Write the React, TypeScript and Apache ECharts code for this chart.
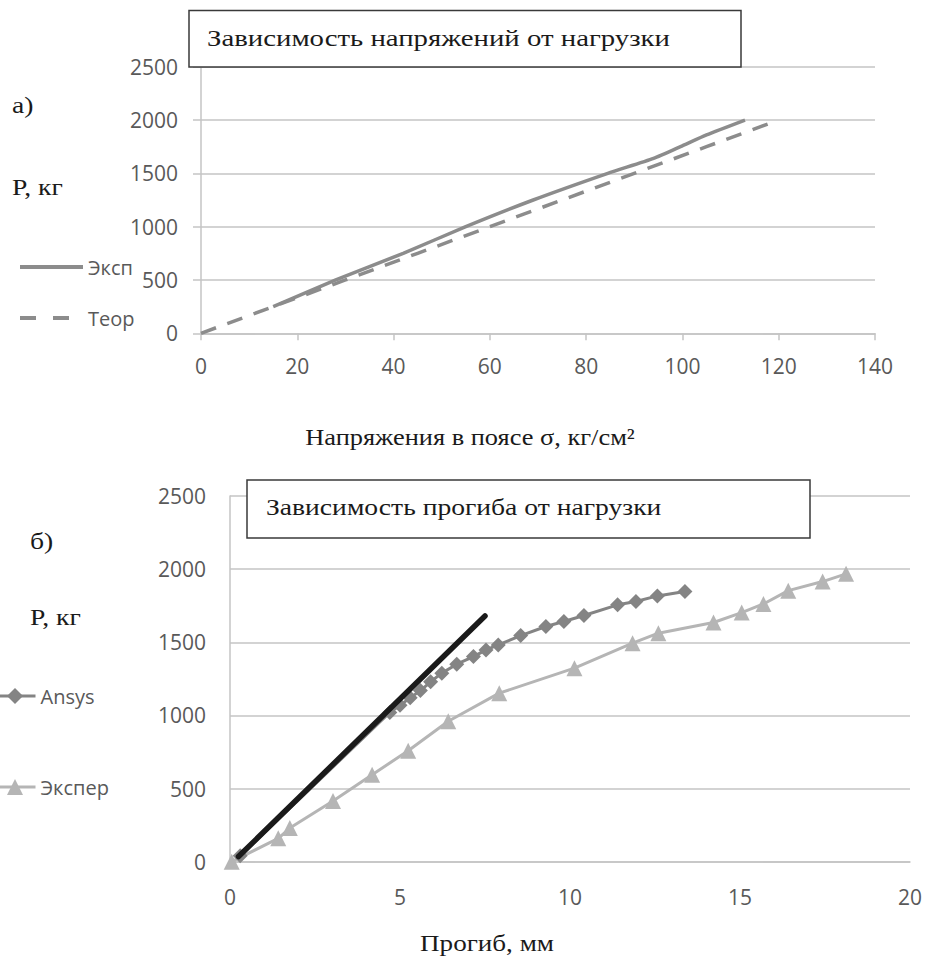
import React, { useEffect, useRef } from "react";
import * as echarts from "echarts";

// ---- Chart а): load vs stress ----
const expStress = [15, 28, 42, 55, 69, 84.5, 94, 99.6, 105, 113];
const expLoad = [250, 500, 750, 1000, 1250, 1500, 1640, 1750, 1860, 2000];
const teorStress = [0, 15, 30, 45, 60, 75, 90, 105, 120];
const teorLoad = [0, 250, 500, 750, 1000, 1250, 1500, 1750, 2000];

// ---- Chart б): load vs deflection ----
const ansysDefl = [0.3, 4.7, 5.0, 5.3, 5.6, 5.9, 6.23, 6.67, 7.16, 7.53, 7.89, 8.55, 9.29, 9.82, 10.41, 11.4, 11.94, 12.57, 13.38];
const ansysLoad = [40, 1020, 1070, 1120, 1170, 1230, 1289, 1350, 1402, 1448, 1482, 1546, 1608, 1642, 1683, 1756, 1779, 1817, 1847];
const experDefl = [0.05, 1.42, 1.76, 3.03, 4.18, 5.24, 6.42, 7.92, 10.13, 11.84, 12.6, 14.22, 15.05, 15.69, 16.42, 17.43, 18.12];
const experLoad = [0, 160, 230, 415, 595, 758, 960, 1152, 1323, 1494, 1562, 1635, 1703, 1762, 1853, 1915, 1968];
const linDefl = [0.25, 7.5];
const linLoad = [35, 1680];

const titleA = "Зависимость напряжений от нагрузки";
const titleB = "Зависимость прогиба от нагрузки";
const xNameA = "Напряжения в поясе σ, кг/см²";
const xNameB = "Прогиб, мм";

const pairs = (xs: number[], ys: number[]) => xs.map((x, i) => [x, ys[i]]);

const SANS = "'Open Sans', 'Liberation Sans', sans-serif";
const SERIF = "'Liberation Serif', 'DejaVu Serif', serif";
const LABEL = "#595959";
const GRID = "#c4c4c4";

export default function App() {
  const ref = useRef<HTMLDivElement>(null);
  useEffect(() => {
    if (!ref.current) return;
    const chart = echarts.init(ref.current, null, { renderer: "svg" });
    const axisLabel = (margin: number) => ({
      color: LABEL,
      fontFamily: SANS,
      fontSize: 21,
      margin,
      formatter: (v: number) => String(v),
    });
    const serifText = (text: string, x: number, y: number, sx: number, align = "left", z = 10) => ({
      type: "text", z, x, y, scaleX: sx,
      style: { text, font: `24px ${SERIF}`, fill: "#1a1a1a", textAlign: align, textVerticalAlign: "middle" },
    });
    const option: any = {
      animation: false,
      backgroundColor: "#ffffff",
      grid: [
        { left: 201, top: 66.7, width: 674, height: 266.6 },
        { left: 230, top: 496, width: 680, height: 365.7 },
      ],
      xAxis: [
        {
          type: "value", gridIndex: 0, min: 0, max: 140, interval: 20,
          axisLine: { show: true, lineStyle: { color: GRID, width: 1.5 } },
          axisTick: { show: true, length: 7, lineStyle: { color: GRID, width: 1.5 } },
          splitLine: { show: false },
          axisLabel: axisLabel(22),
        },
        {
          type: "value", gridIndex: 1, min: 0, max: 20, interval: 5,
          axisLine: { show: true, lineStyle: { color: GRID, width: 1.5 } },
          axisTick: { show: false },
          splitLine: { show: false },
          axisLabel: axisLabel(25),
        },
      ],
      yAxis: [
        {
          type: "value", gridIndex: 0, min: 0, max: 2500, interval: 500,
          axisLine: { show: true, lineStyle: { color: GRID, width: 1.5 } },
          axisTick: { show: true, length: 8, lineStyle: { color: GRID, width: 1.5 } },
          splitLine: { show: true, lineStyle: { color: GRID, width: 1.5 } },
          axisLabel: axisLabel(23),
        },
        {
          type: "value", gridIndex: 1, min: 0, max: 2500, interval: 500,
          axisLine: { show: true, lineStyle: { color: GRID, width: 1.5 } },
          axisTick: { show: false },
          splitLine: { show: true, lineStyle: { color: GRID, width: 1.5 } },
          axisLabel: axisLabel(24),
        },
      ],
      legend: [
        {
          data: [
            { name: "Эксп", lineStyle: { color: "#8c8c8c", width: 4, type: "solid" } },
            { name: "Теор", lineStyle: { color: "#8c8c8c", width: 4, type: [16, 17] } },
          ],
          orient: "vertical",
          left: 13,
          top: 252,
          itemWidth: 63,
          itemHeight: 20,
          itemGap: 31,
          itemStyle: { opacity: 0 },
          textStyle: { color: LABEL, fontFamily: SANS, fontSize: 20 },
        },
        {
          data: ["Ansys", "Экспер"],
          orient: "vertical",
          left: -12,
          top: 681,
          itemWidth: 41,
          itemHeight: 20,
          itemGap: 71,
          lineStyle: { width: 3 },
          textStyle: { color: LABEL, fontFamily: SANS, fontSize: 20 },
        },
      ],
      series: [
        {
          name: "Эксп", type: "line", xAxisIndex: 0, yAxisIndex: 0,
          data: pairs(expStress, expLoad), symbol: "none", smooth: 0.2,
          lineStyle: { color: "#8c8c8c", width: 3.5 }, itemStyle: { color: "#8c8c8c" },
        },
        {
          name: "Теор", type: "line", xAxisIndex: 0, yAxisIndex: 0,
          data: pairs(teorStress, teorLoad), symbol: "none",
          lineStyle: { color: "#8c8c8c", width: 3.5, type: [16, 12] }, itemStyle: { color: "#8c8c8c" },
        },
        {
          name: "Экспер", type: "line", xAxisIndex: 1, yAxisIndex: 1,
          data: pairs(experDefl, experLoad), symbol: "triangle", symbolSize: 16,
          lineStyle: { color: "#b5b5b5", width: 3 }, itemStyle: { color: "#b5b5b5" },
        },
        {
          name: "Ansys", type: "line", xAxisIndex: 1, yAxisIndex: 1,
          data: pairs(ansysDefl, ansysLoad), symbol: "diamond", symbolSize: 15,
          lineStyle: { color: "#848484", width: 3 }, itemStyle: { color: "#848484" },
        },
        {
          name: "Линейная", type: "line", xAxisIndex: 1, yAxisIndex: 1,
          data: pairs(linDefl, linLoad), symbol: "none",
          lineStyle: { color: "#1a1a1a", width: 5.5, cap: "round" }, itemStyle: { color: "#1a1a1a" },
          z: 5,
        },
      ],
      graphic: [
        {
          type: "rect", z: 100, shape: { x: 189, y: 10.5, width: 552, height: 56.5 },
          style: { fill: "#ffffff", stroke: "#3a3a3a", lineWidth: 1.5 },
        },
        serifText(titleA, 207, 38, 1.2, "left", 101),
        {
          type: "rect", z: 100, shape: { x: 247, y: 480, width: 563, height: 58 },
          style: { fill: "#ffffff", stroke: "#3a3a3a", lineWidth: 1.5 },
        },
        serifText(titleB, 266, 507, 1.15, "left", 101),
        serifText("а)", 12, 105, 1.15),
        serifText("P, кг", 12, 187, 1.15),
        serifText("б)", 30, 541, 1.15),
        serifText("P, кг", 30, 617, 1.15),
        serifText(xNameA, 470, 437, 1.1, "center"),
        serifText(xNameB, 487, 943, 1.13, "center"),
      ],
    };
    chart.setOption(option);
    return () => chart.dispose();
  }, []);
  return (
    <div
      ref={ref}
      style={{ position: "fixed", left: 0, top: 0, width: 925, height: 958, background: "#fff" }}
    />
  );
}
